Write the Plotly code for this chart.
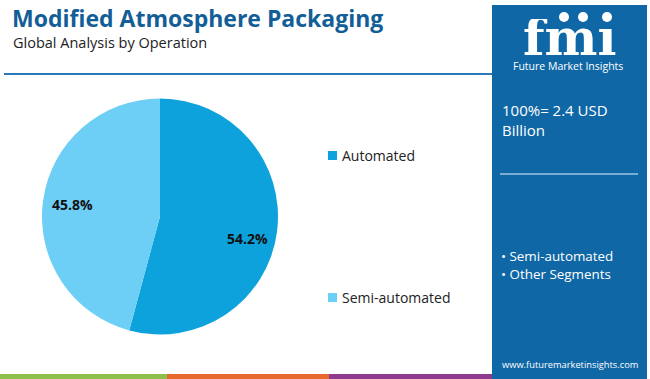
import math
import plotly.graph_objects as go

W, H = 650, 379

categories = ["Automated", "Semi-automated"]
values = [54.2, 45.8]
colors = ["#0ea2dc", "#6dcff6"]

title = "Modified Atmosphere Packaging"
subtitle = "Global Analysis by Operation"
total_text = "100%= 2.4 USD<br>Billion"
panel_items = ["Semi-automated", "Other Segments"]
website = "www.futuremarketinsights.com"

def px(x):
    return x / W

def py(y):
    return 1 - y / H

# pie geometry (window pixels)
CX, CY, R = 160, 216.5, 118

fig = go.Figure()
fig.add_trace(go.Pie(
    labels=categories,
    values=values,
    marker=dict(colors=colors, line=dict(width=0)),
    sort=False,
    direction="clockwise",
    rotation=0,
    textinfo="none",
    domain=dict(x=[px(CX - R), px(CX + R)], y=[py(CY + R), py(CY - R)]),
    showlegend=False,
    hoverinfo="label+percent",
))

shapes = []
annotations = []

# slice labels at mid-angle
total = sum(values)
start = 0.0
for v in values:
    mid = (start + v / 2) / total * 2 * math.pi
    start += v
    lx = CX + 0.75 * R * math.sin(mid)
    ly = CY - 0.75 * R * math.cos(mid) + (10 if math.sin(mid) > 0 else 0)
    annotations.append(dict(x=px(lx), y=py(ly), xref="paper", yref="paper", xanchor="center", yanchor="middle",
                            text=f"<b>{v:.1f}%</b>", showarrow=False,
                            font=dict(family="Open Sans", size=14, color="#111111")))

# title and subtitle
annotations.append(dict(x=px(10), y=py(18), xref="paper", yref="paper", xanchor="left", yanchor="middle",
                        text=f"<b>{title}</b>", showarrow=False,
                        font=dict(family="Open Sans", size=23, color="#135e96")))
annotations.append(dict(x=px(11), y=py(42), xref="paper", yref="paper", xanchor="left", yanchor="middle",
                        text=subtitle, showarrow=False,
                        font=dict(family="Open Sans", size=14.5, color="#222222")))
# header line
shapes.append(dict(type="line", xref="paper", yref="paper", x0=px(4), x1=px(492), y0=py(74), y1=py(74),
                   line=dict(color="#2a78b8", width=2)))

# legend (manual)
leg_y = [155, 297]
for cat, col, yy in zip(categories, colors, leg_y):
    shapes.append(dict(type="rect", xref="paper", yref="paper", x0=px(328), x1=px(337), y0=py(yy + 5), y1=py(yy - 4),
                       fillcolor=col, line=dict(width=0)))
    annotations.append(dict(x=px(340), y=py(yy), xref="paper", yref="paper", xanchor="left", yanchor="middle",
                            text=cat, showarrow=False,
                            font=dict(family="Open Sans", size=14, color="#222222")))

# right panel
shapes.append(dict(type="rect", xref="paper", yref="paper", x0=px(492), x1=px(647), y0=0, y1=py(5),
                   fillcolor="#0f67a6", line=dict(width=0), layer="below"))
# bottom colored strip
strip = [(0, 167, "#8cc04b"), (167, 329, "#e8692c"), (329, 492, "#8e3a8f")]
for x0, x1, c in strip:
    shapes.append(dict(type="rect", xref="paper", yref="paper", x0=px(x0), x1=px(x1), y0=0, y1=py(374),
                       fillcolor=c, line=dict(width=0)))

# logo
for cx_ in (564, 583, 607):
    shapes.append(dict(type="circle", xref="paper", yref="paper", x0=px(cx_ - 5), x1=px(cx_ + 5),
                       y0=py(22), y1=py(12), fillcolor="#ffffff", line=dict(width=0)))
annotations.append(dict(x=px(569), y=py(37), xref="paper", yref="paper", xanchor="center", yanchor="middle",
                        text="<b>fmı</b>", showarrow=False, height=36,
                        font=dict(family="DejaVu Serif", size=50, color="#ffffff")))
annotations.append(dict(x=px(568), y=py(66), xref="paper", yref="paper", xanchor="center", yanchor="middle",
                        text="Future Market Insights", showarrow=False,
                        font=dict(family="Open Sans", size=10.5, color="#ffffff")))
annotations.append(dict(x=px(500), y=py(120), xref="paper", yref="paper", xanchor="left", yanchor="middle",
                        text=total_text, showarrow=False, align="left",
                        font=dict(family="Open Sans", size=15, color="#ffffff")))
shapes.append(dict(type="line", xref="paper", yref="paper", x0=px(500), x1=px(638), y0=py(174), y1=py(174),
                   line=dict(color="#9cc4e4", width=1.5)))
for i, item in enumerate(panel_items):
    annotations.append(dict(x=px(499), y=py(256 + 18 * i), xref="paper", yref="paper", xanchor="left", yanchor="middle",
                            text="• " + item, showarrow=False,
                            font=dict(family="Open Sans", size=13.4, color="#ffffff")))
annotations.append(dict(x=px(570), y=py(364), xref="paper", yref="paper", xanchor="center", yanchor="middle",
                        text=website, showarrow=False,
                        font=dict(family="Open Sans", size=9.3, color="#ffffff")))

fig.update_layout(
    width=W, height=H,
    margin=dict(l=0, r=0, t=0, b=0),
    paper_bgcolor="#ffffff",
    plot_bgcolor="#ffffff",
    shapes=shapes,
    annotations=annotations,
)

fig.write_html("out.html", config={"displayModeBar": False},
               post_script="document.body.style.margin='0';")
